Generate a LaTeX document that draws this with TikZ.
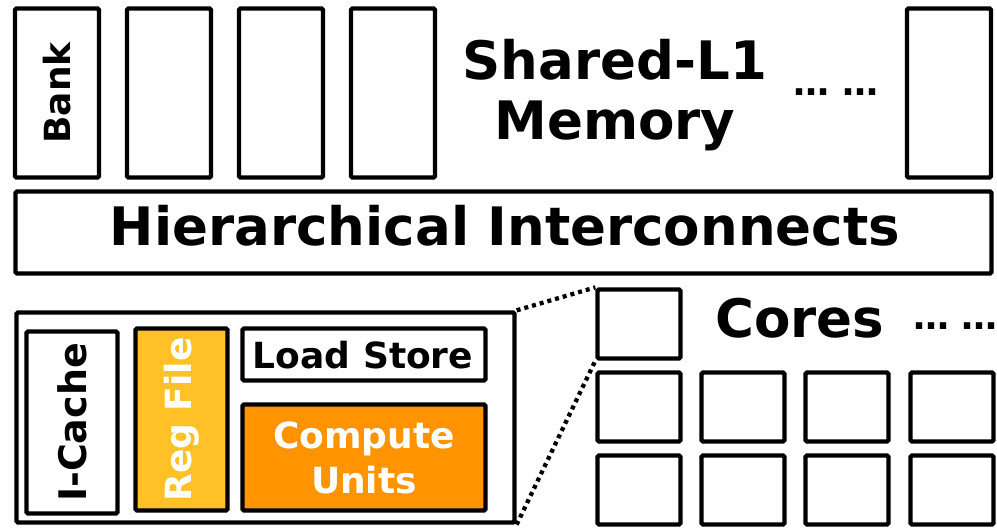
\documentclass[tikz,border=0pt]{standalone}
\usepackage{fontspec}
\setmainfont{DejaVu Sans}
\usetikzlibrary{positioning}

\definecolor{regyellow}{HTML}{FFC125}
\definecolor{cuorange}{HTML}{FF9400}
\newcommand{\bigfont}{\fontsize{53}{60}\selectfont\bfseries}
\newcommand{\midfont}{\fontsize{36}{45}\selectfont\bfseries}

\tikzset{
	blk/.style={draw, line width=4.3pt, rounded corners=1.5pt, inner sep=0pt},
	zoomline/.style={line width=4.3pt, dash pattern=on 4pt off 4pt},
}

\begin{document}
\begin{tikzpicture}[x=1pt, y=-1pt]
	\useasboundingbox (0,0) rectangle (997,529);
	% memory banks
	\foreach \i/\cx in {1/57, 2/169, 3/281, 4/393, 5/949}
		\node[blk, minimum width=84pt, minimum height=169pt] (bank\i) at (\cx,93) {};
	\node[rotate=90, font=\midfont] (banklbl) at (bank1) {Bank};
	\node[font=\bigfont, align=center] (l1lbl) at (615,95) {Shared-L1\\Memory};
	\node[font=\midfont, anchor=base] (bankdots) at (836,96) {… …};
	% interconnect
	\node[blk, minimum width=976pt, minimum height=82pt] (noc) at (503.5,232.5) {};
	\node[font=\bigfont, anchor=base] (noclbl) at (505,246) {Hierarchical Interconnects};
	% one core, zoomed in
	\node[blk, minimum width=498pt, minimum height=210pt] (core) at (265.5,417.5) {};
	\node[blk, minimum width=91pt, minimum height=182pt] (icache) at (72,422.5) {};
	\node[rotate=90, font=\fontsize{38}{45}\selectfont\bfseries] (icachelbl) at (icache) {I-Cache};
	\node[blk, fill=regyellow, minimum width=92pt, minimum height=182pt] (regf) at (181.5,419.5) {};
	\node[rotate=90, font=\midfont, text=white] (regflbl) at (regf) {Reg File};
	\node[blk, minimum width=243pt, minimum height=52pt] (lsu) at (364,354.5) {};
	\node[font=\midfont, anchor=base] (lsulbl) at (363,369) {Load Store};
	\node[blk, fill=cuorange, minimum width=243pt, minimum height=106pt] (cu) at (364,457.5) {};
	\node[font=\midfont, align=center, text=white] (culbl) at (cu) {Compute\\Units};
	% core array
	\node[blk, minimum width=83pt, minimum height=69pt] (c0) at (639,324) {};
	\foreach \r/\cy in {1/407, 2/490}
		\foreach \c/\cx in {1/639, 2/743, 3/847, 4/952}
			\node[blk, minimum width=83pt, minimum height=69pt] (c\r\c) at (\cx,\cy) {};
	\node[font=\bigfont, anchor=base] (coreslbl) at (800,338) {Cores};
	\node[font=\midfont, anchor=base west, inner sep=0pt] (coredots) at (913,330) {… …};
	\draw[zoomline] (core.north east) -- (c0.north west);
	\draw[zoomline] (core.south east) -- (c0.south west);
\end{tikzpicture}
\end{document}
